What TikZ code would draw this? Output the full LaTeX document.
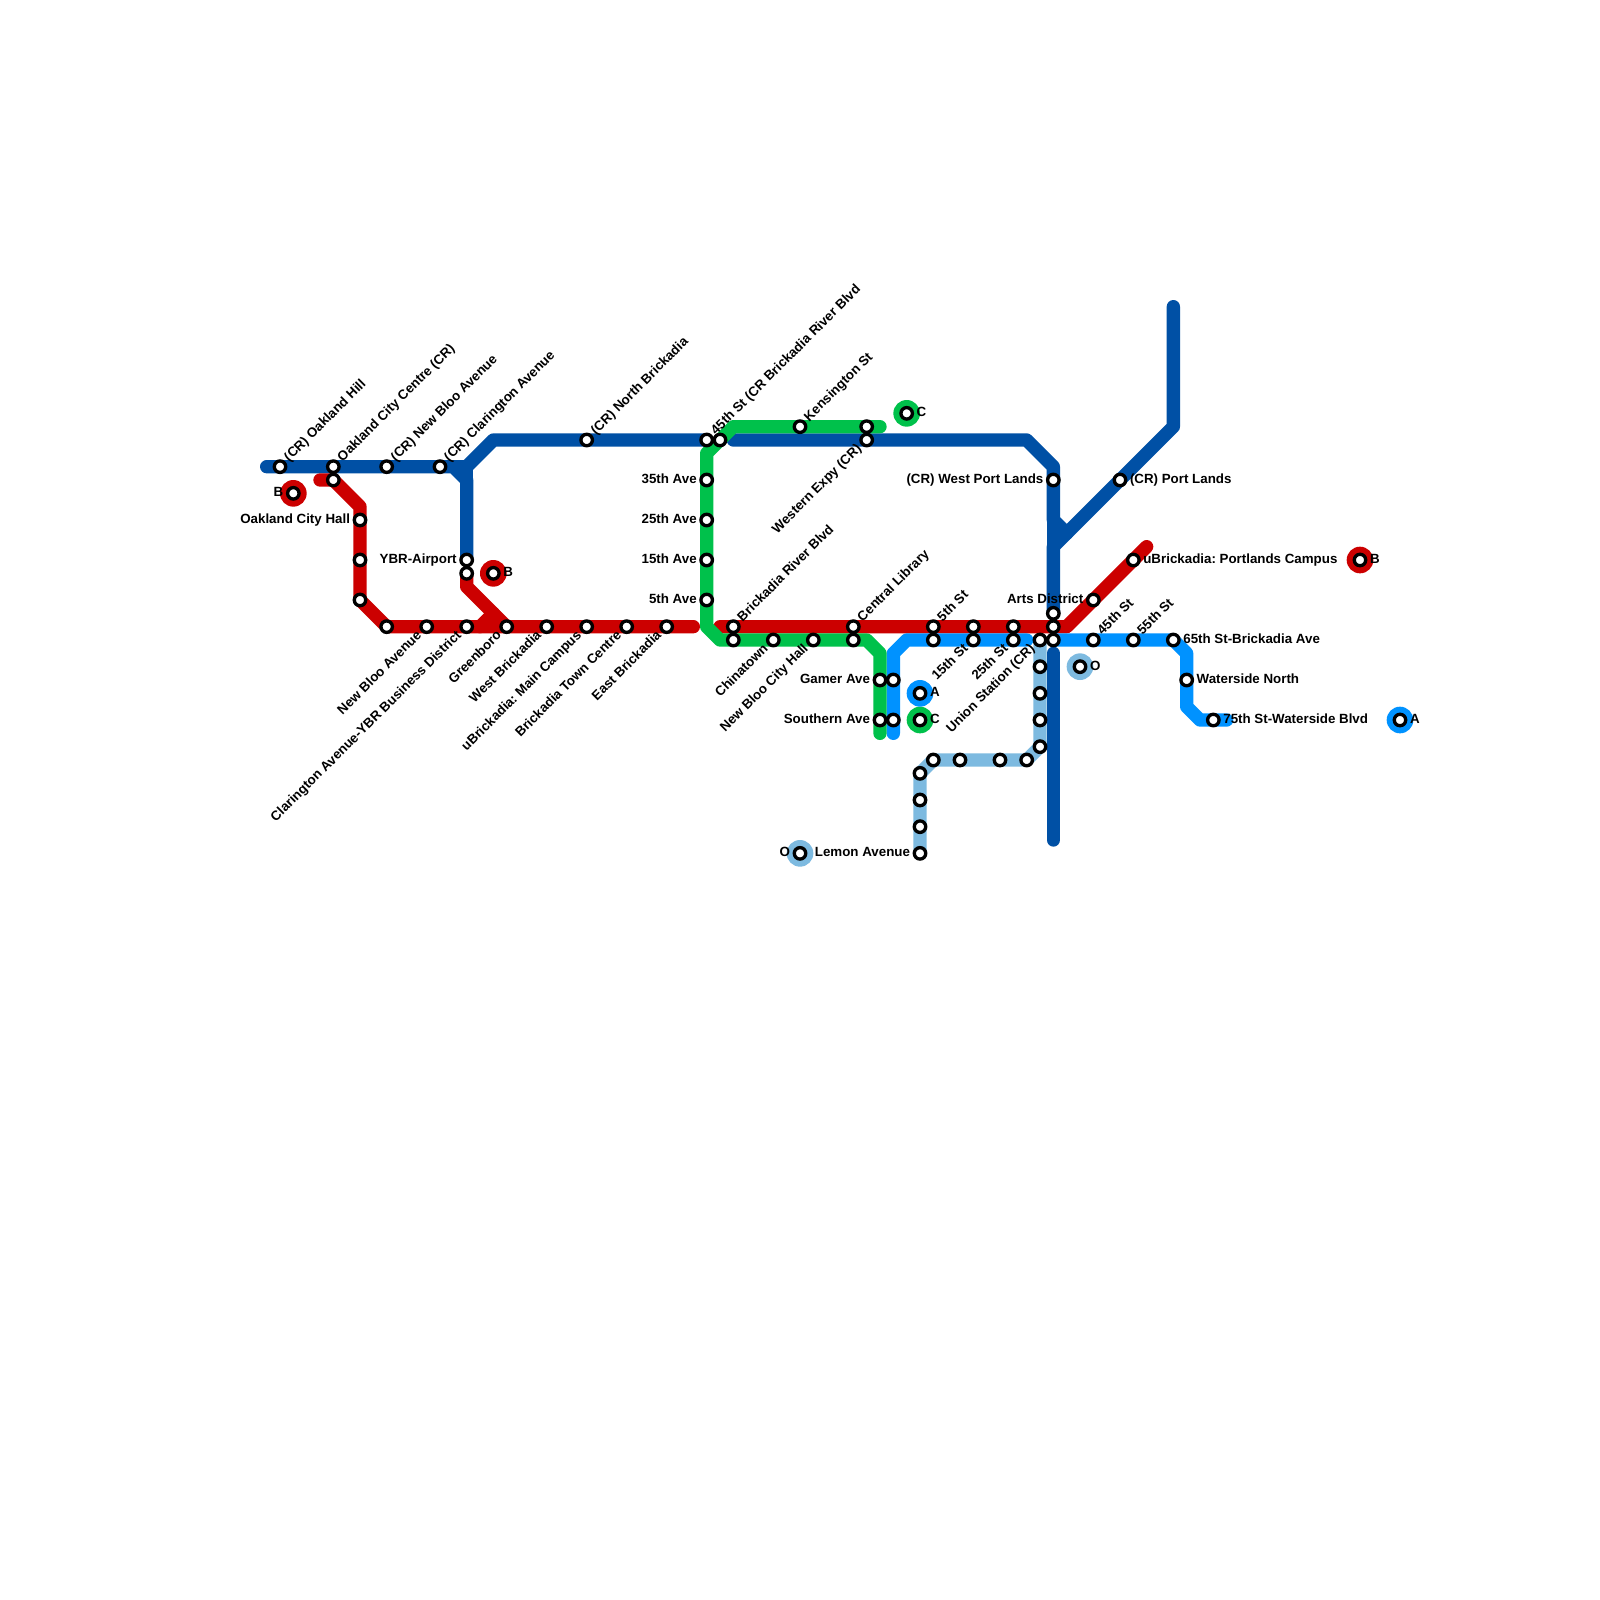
\documentclass[tikz,border=0pt]{standalone}
\usepackage{fontspec}
\setmainfont{Liberation Sans}
\frenchspacing
\pgfdeclarelayer{lines}
\pgfsetlayers{lines,main}
\definecolor{cdark}{RGB}{0,80,165}
\definecolor{cred}{RGB}{204,0,0}
\definecolor{cgreen}{RGB}{0,193,75}
\definecolor{cbright}{RGB}{0,146,255}
\definecolor{clight}{RGB}{125,186,224}
\tikzset{
  route/.style={line width=10pt,line cap=round,line join=round},
  stn/.style={circle,draw=black,fill=white,line width=2.5pt,minimum size=8.6pt,inner sep=0pt,outer sep=0pt},
  disc/.style={circle,fill=#1,minimum size=20pt,inner sep=0pt,outer sep=0pt},
  txt/.style={font=\fontsize{10pt}{12pt}\selectfont\bfseries,inner sep=0pt,outer sep=0pt,text=black},
  lr/.style={txt,anchor=base west,xshift=7.5pt,yshift=-2.5pt},
  ll/.style={txt,anchor=base east,xshift=-7.5pt,yshift=-2.5pt},
  ur/.style={txt,xshift=7.05pt,yshift=3.5pt,rotate=45,anchor=base west},
  dl/.style={txt,xshift=-3.5pt,yshift=-7.05pt,rotate=45,anchor=base east},
}
\newcommand\st[2]{\node[stn] (#1) at (#2) {};}
\newcommand\lb[3]{\node[#1] (t#2) at (#2) {#3};}
\newcommand\tr[3]{\node[disc=#1] (d#2) at (#3) {};\node[stn] (#2) at (#3) {};}
\begin{document}
\begin{tikzpicture}[x=10pt,y=-10pt]
\useasboundingbox (0,0) rectangle (120,120);
% transfer discs
\tr{cred}{xba}{22,37}
\tr{cred}{xbb}{37,43}
\tr{cred}{xbc}{102,42}
\tr{cgreen}{xca}{68,31}
\tr{cgreen}{xcb}{69,54}
\tr{cbright}{xaa}{69,52}
\tr{cbright}{xab}{105,54}
\tr{clight}{xoa}{60,64}
\tr{clight}{xob}{81,50}
% stations
\st{oh}{21,35}\st{occ}{25,35}\st{nbc}{29,35}\st{clc}{33,35}\st{nbk}{44,33}
\st{bkr}{53,33}\st{kx}{54,33}\st{wex}{65,33}\st{wpl}{79,36}\st{cpl}{84,36}
\st{ra}{25,36}\st{och}{27,39}\st{rb}{27,42}\st{rc}{27,45}\st{rd}{29,47}
\st{nba}{32,47}\st{cay}{35,47}\st{gre}{38,47}\st{wbk}{41,47}\st{ubm}{44,47}
\st{btc}{47,47}\st{ebk}{50,47}\st{ybr}{35,42}\st{re}{35,43}
\st{a35}{53,36}\st{a25}{53,39}\st{a15}{53,42}\st{a5}{53,45}
\st{ken}{60,32}\st{ga}{65,32}
\st{brb}{55,47}\st{gb}{55,48}\st{chi}{58,48}\st{nbh}{61,48}
\st{cen}{64,47}\st{gc}{64,48}
\st{s5}{70,47}\st{ba}{70,48}\st{rf}{73,47}\st{s15}{73,48}\st{rg}{76,47}\st{s25}{76,48}
\st{uni}{78,48}\st{da}{79,46}\st{rh}{79,47}\st{bb}{79,48}
\st{art}{82,45}\st{ubp}{85,42}
\st{s45}{82,48}\st{s55}{85,48}\st{s65}{88,48}\st{wan}{89,51}\st{s75}{91,54}
\st{gam}{66,51}\st{bc}{67,51}\st{sou}{66,54}\st{bd}{67,54}
\st{la}{78,50}\st{lb}{78,52}\st{lc}{78,54}\st{ld}{78,56}\st{le}{77,57}\st{lf}{75,57}
\st{lg}{72,57}\st{lh}{70,57}\st{li}{69,58}\st{lj}{69,60}\st{lk}{69,62}\st{lem}{69,64}
% bends and free ends
\coordinate (da0) at (20,35);\coordinate (da1) at (34,35);\coordinate (da2) at (35,36);
\coordinate (da3) at (35,35);\coordinate (da4) at (37,33);
\coordinate (db0) at (55,33);\coordinate (db1) at (77,33);\coordinate (db2) at (79,35);
\coordinate (db3) at (79,39);\coordinate (db4) at (80,40);
\coordinate (dc0) at (88,23);\coordinate (dc1) at (88,32);\coordinate (dc2) at (79,41);
\coordinate (dd0) at (79,49);\coordinate (dd1) at (79,63);
\coordinate (ra0) at (24,36);\coordinate (ra1) at (27,38);\coordinate (ra2) at (52,47);
\coordinate (rb1) at (35,44);\coordinate (rb2) at (36,47);\coordinate (rb3) at (37,46);
\coordinate (rc0) at (54,47);\coordinate (rc1) at (80,47);\coordinate (rc2) at (86,41);
\coordinate (ga0) at (66,32);\coordinate (ga1) at (55,32);\coordinate (ga2) at (53,34);
\coordinate (ga3) at (53,47);\coordinate (ga4) at (54,48);\coordinate (ga5) at (65,48);
\coordinate (ga6) at (66,49);\coordinate (ga7) at (66,55);
\coordinate (ba0) at (67,55);\coordinate (ba1) at (67,49);\coordinate (ba2) at (68,48);
\coordinate (ba3) at (77,48);
\coordinate (bb1) at (88,48);\coordinate (bb2) at (89,49);\coordinate (bb3) at (89,53);
\coordinate (bb4) at (90,54);\coordinate (bb5) at (92,54);
\begin{pgfonlayer}{lines}
\fill[white] (0,0) rectangle (120,120);
\draw[route,cdark] (da0) -- (da1) -- (da2) -- (ybr.center);
\draw[route,cdark] (da1) -- (da3) -- (da2);
\draw[route,cdark] (da3) -- (da4) -- (bkr.center);
\draw[route,cdark] (db0) -- (db1) -- (db2) -- (db3) -- (db4);
\draw[route,cdark] (db3) -- (dc2);
\draw[route,cdark] (dc0) -- (dc1) -- (dc2) -- (da.center);
\draw[route,cred] (ra0) -- (ra.center) -- (ra1) -- (rc.center) -- (rd.center) -- (ra2);
\draw[route,cred] (re.center) -- (rb1) -- (gre.center);
\draw[route,cred] (rb2) -- (rb3);
\draw[route,cred] (rc0) -- (rc1) -- (rc2);
\draw[route,clight] (uni.center) -- (ld.center) -- (le.center) -- (lh.center) -- (li.center) -- (lem.center);
\draw[route,cbright] (ba0) -- (ba1) -- (ba2) -- (ba3);
\draw[route,cbright] (bb.center) -- (bb1) -- (bb2) -- (bb3) -- (bb4) -- (bb5);
\draw[route,cgreen] (ga0) -- (ga1) -- (ga2) -- (ga3) -- (ga4) -- (ga5) -- (ga6) -- (ga7);
\draw[route,cdark] (dd0) -- (dd1);
\end{pgfonlayer}
% labels
\lb{ur}{oh}{(CR) Oakland Hill}
\lb{ur}{occ}{Oakland City Centre (CR)}
\lb{ur}{nbc}{(CR) New Bloo Avenue}
\lb{ur}{clc}{(CR) Clarington Avenue}
\lb{ur}{nbk}{(CR) North Brickadia}
\lb{ur}{bkr}{45th St (CR Brickadia River Blvd}
\lb{ur}{ken}{Kensington St}
\lb{dl}{wex}{Western Expy (CR)}
\lb{ur}{brb}{Brickadia River Blvd}
\lb{ur}{cen}{Central Library}
\lb{ur}{s5}{5th St}
\lb{ur}{s45}{45th St}
\lb{ur}{s55}{55th St}
\lb{dl}{nba}{New Bloo Avenue}
\lb{dl}{cay}{Clarington Avenue-YBR Business District}
\lb{dl}{gre}{Greenboro}
\lb{dl}{wbk}{West Brickadia}
\lb{dl}{ubm}{uBrickadia: Main Campus}
\lb{dl}{btc}{Brickadia Town Centre}
\lb{dl}{ebk}{East Brickadia}
\lb{dl}{chi}{Chinatown}
\lb{dl}{nbh}{New Bloo City Hall}
\lb{dl}{s15}{15th St}
\lb{dl}{s25}{25th St}
\lb{dl}{uni}{Union Station (CR)}
\lb{ll}{och}{Oakland City Hall}
\lb{ll}{ybr}{YBR-Airport}
\lb{ll}{a35}{35th Ave}
\lb{ll}{a25}{25th Ave}
\lb{ll}{a15}{15th Ave}
\lb{ll}{a5}{5th Ave}
\lb{ll}{wpl}{(CR) West Port Lands}
\lb{ll}{art}{Arts District}
\lb{ll}{gam}{Gamer Ave}
\lb{ll}{sou}{Southern Ave}
\lb{ll}{lem}{Lemon Avenue}
\lb{lr}{cpl}{(CR) Port Lands}
\lb{lr}{ubp}{uBrickadia: Portlands Campus}
\lb{lr}{s65}{65th St-Brickadia Ave}
\lb{lr}{wan}{Waterside North}
\lb{lr}{s75}{75th St-Waterside Blvd}
\lb{ll}{xba}{B}
\lb{lr}{xbb}{B}
\lb{lr}{xbc}{B}
\lb{lr}{xca}{C}
\lb{lr}{xcb}{C}
\lb{lr}{xaa}{A}
\lb{lr}{xab}{A}
\lb{ll}{xoa}{O}
\lb{lr}{xob}{O}
\end{tikzpicture}
\end{document}
